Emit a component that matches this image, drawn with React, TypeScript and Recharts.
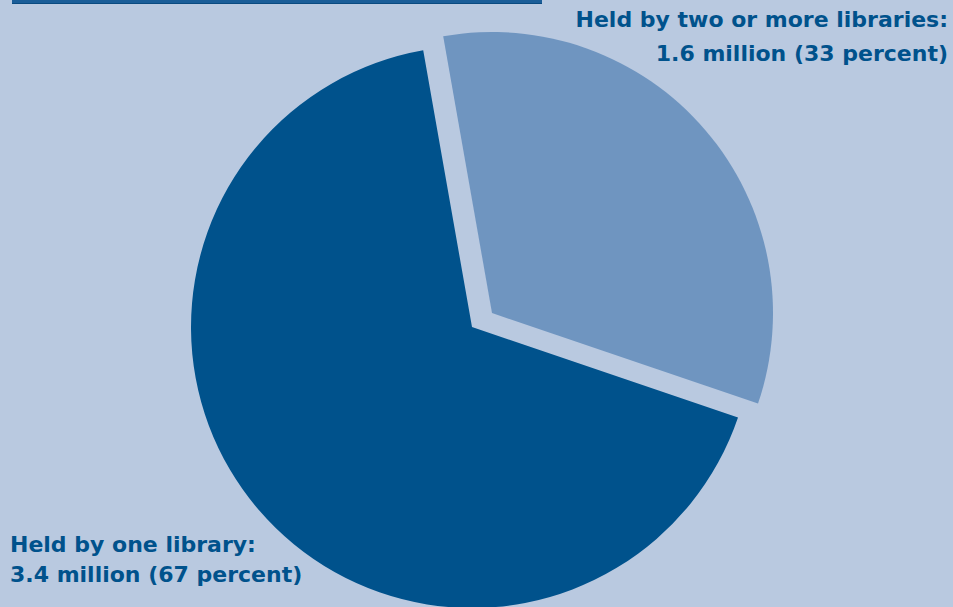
import { PieChart, Pie, Cell } from "recharts";

// library holdings
const sliceNames = ["Held by two or more libraries", "Held by one library"];
const sliceMillions = [1.6, 3.4];
const slicePercents = [33, 67];

const BG = "#b9c9e0";
const DARK = "#00528c";
const LIGHT = "#6f95c0";

const data = sliceNames.map((name, i) => ({
  name,
  millions: sliceMillions[i],
  percent: slicePercents[i],
}));

const CX = 472;
const CY = 327;
const R = 281;
// pull-out of the small slice
const EXPLODE_X = 20;
const EXPLODE_Y = -14;
const START = 100;

export default function App() {
  const labelStyle: React.CSSProperties = {
    position: "absolute",
    fontFamily: "'DejaVu Sans', sans-serif",
    fontWeight: 700,
    fontSize: 22,
    color: DARK,
    whiteSpace: "nowrap",
  };

  return (
    <div
      style={{
        position: "absolute",
        left: 0,
        top: 0,
        width: 953,
        height: 607,
        background: BG,
        overflow: "hidden",
      }}
    >
      <div
        style={{
          position: "absolute",
          left: 12,
          top: 0,
          width: 530,
          height: 3,
          background: "#1a5d98",
          borderBottom: "1px solid #0a4a80",
        }}
      />
      <PieChart
        width={953}
        height={607}
        margin={{ top: 0, right: 0, bottom: 0, left: 0 }}
      >
        {/* big slice in place */}
        <Pie
          data={data}
          dataKey="percent"
          cx={CX}
          cy={CY}
          outerRadius={R}
          startAngle={START}
          endAngle={START - 360}
          stroke="none"
          isAnimationActive={false}
        >
          <Cell fill="transparent" />
          <Cell fill={DARK} />
        </Pie>
        {/* small slice pulled out */}
        <Pie
          data={data}
          dataKey="percent"
          cx={CX + EXPLODE_X}
          cy={CY + EXPLODE_Y}
          outerRadius={R}
          startAngle={START}
          endAngle={START - 360}
          stroke="none"
          isAnimationActive={false}
        >
          <Cell fill={LIGHT} />
          <Cell fill="transparent" />
        </Pie>
      </PieChart>
      <div
        style={{
          ...labelStyle,
          right: 5,
          top: 3,
          lineHeight: "34px",
          textAlign: "right",
        }}
      >
        {data[0].name}:
        <br />
        {data[0].millions} million ({data[0].percent} percent)
      </div>
      <div
        style={{
          ...labelStyle,
          left: 10,
          top: 530,
          lineHeight: "30px",
          textAlign: "left",
        }}
      >
        {data[1].name}:
        <br />
        {data[1].millions} million ({data[1].percent} percent)
      </div>
    </div>
  );
}
